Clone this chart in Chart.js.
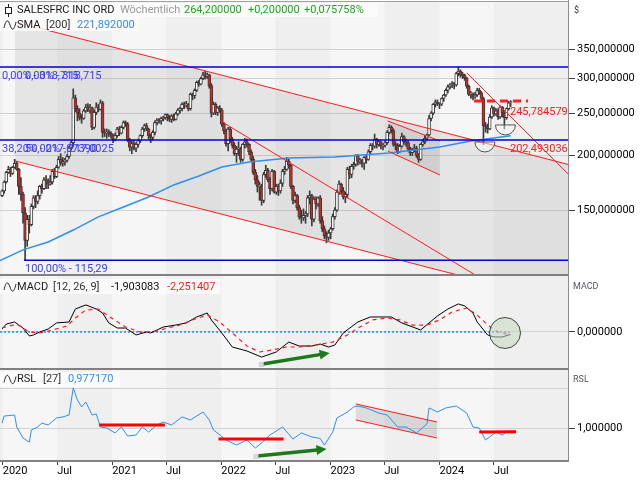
<!DOCTYPE html>
<html lang="de">
<head>
  <meta charset="UTF-8" />
  <title>SALESFRC INC ORD – Wöchentlich</title>
  <style>
    body { margin: 0; background: #fff; }
    #wrap { position: relative; width: 640px; height: 480px; overflow: hidden; }
    .pane { position: absolute; left: 0; width: 640px; }
    #p1 { top: 0; height: 276px; }
    #p2 { top: 276px; height: 94px; }
    #p3 { top: 370px; height: 110px; }
  </style>
</head>
<body>
<div id="wrap">
  <div class="pane" id="p1"><canvas id="priceChart"></canvas></div>
  <div class="pane" id="p2"><canvas id="macdChart"></canvas></div>
  <div class="pane" id="p3"><canvas id="rslChart"></canvas></div>
</div>

<script src="https://cdn.jsdelivr.net/npm/chart.js"></script>
<script>
// Wochenkerzen, Woche 0 = 30.12.2019
const opens = [
  162,166,174,183,186,182,188,192,186,170, 163,148,128,143,139,153,160,157,162,170,
  168,176,175,172,174,184,179,188,196,192, 194,195,199,208,214,271,256,250,244,243,
  253,258,254,257,232,251,258,255,264,226, 225,226,225,223,218,222,230,225,232,238,
  236,217,209,213,208,212,216,222,230,234, 230,222,220,226,238,241,240,243,244,248,
  244,242,246,242,249,254,256,262,261,262, 256,276,274,282,294,291,300,306,303,306,
  289,250,262,251,257,254,236,228,213,230, 218,211,202,207,207,196,212,215,212,204,
  196,183,176,170,170,158,181,185,176,168, 184,165,170,166,173,184,186,194,190,170,
  158,162,152,145,144,146,147,160,162,143, 159,155,160,142,136,131,130,133,136,145,
  150,165,172,166,161,163,186,181,189,191, 200,194,195,192,198,196,204,211,210,218,
  212,215,210,211,214,226,232,228,212,211, 204,210,221,215,214,207,203,206,208,200,
  196,212,215,219,223,243,250,262,265,263, 262,270,275,282,287,290,292,290,308,312,
  306,305,301,288,276,276,272,275,282,278, 270,234,233,230,245,257,249,253,245,258,
  250,244,256,264
];
const highs = [
  167,175,184,189,188,189,196,194,187,178, 165,152,146,146,155,162,162,166,171,172,
  178,180,177,180,186,187,190,199,202,198, 197,201,210,216,284,275,260,256,248,255,
  262,263,262,258,254,264,262,268,266,230, 230,229,227,224,225,232,233,234,240,240,
  238,219,216,217,214,218,223,232,236,237, 231,224,228,240,243,243,245,246,249,249,
  247,248,249,251,256,258,264,265,266,263, 278,278,284,296,297,302,310,311.75,309,307,
  292,265,264,259,260,256,238,230,232,232, 220,214,210,215,209,213,219,218,213,206,
  199,186,180,174,172,183,190,187,178,186, 185,172,172,176,186,189,198,196,191,171,
  165,163,154,150,151,149,162,166,163,161, 161,161,162,145,138,134,135,137,147,152,
  167,175,173,169,165,188,189,191,193,201, 201,197,196,199,200,206,213,213,224,219,
  217,216,213,216,228,235,234,230,215,213, 212,225,222,218,216,209,208,212,210,202,
  213,217,222,224,247,252,263,268,268,264, 271,276,284,290,292,295,294,310,318.7,314,
  310,307,302,290,280,278,279,285,285,280, 272,238,236,248,260,258,256,256,260,259,
  252,257,266,267
];
const lows = [
  161,164,173,182,179,181,187,185,163,158, 140,115.29,124,133,138,151,152,155,159,164,
  167,168,168,171,172,177,178,187,190,189, 190,193,197,206,211,252,240,241,237,242,
  251,252,250,229,230,248,252,254,220,221, 219,221,219,214,216,220,222,224,230,233,
  215,205,202,206,204,209,214,220,227,228, 218,214,217,223,235,237,236,240,242,240,
  239,238,240,241,247,250,253,256,258,253, 254,268,270,280,288,290,298,299,300,285,
  245,248,248,247,251,233,224,210,205,214, 208,200,193,200,193,194,208,209,201,194,
  181,172,165,158,154,156,178,174,163,166, 164,163,162,164,170,181,185,187,168,155,
  156,150,143,140,142,140,145,155,138,141, 151,153,140,134,129,126.34,128,129,135,143,
  149,163,163,159,156,160,177,178,186,189, 190,191,188,186,192,195,202,206,208,208,
  210,207,206,209,212,224,225,210,206,202, 203,209,212,210,205,200,200,204,198,193,
  195,210,213,217,222,240,248,258,260,256, 260,266,273,278,284,286,284,288,304,302,
  300,297,285,274,270,268,270,273,276,268, 212,226,225,229,243,246,247,242,243,245,
  230,242,254,259
];
const closes = [
  166,174,183,186,182,188,192,186,170,163, 148,128,143,139,153,160,157,162,170,168,
  176,175,172,174,184,179,188,196,192,194, 195,199,208,214,271,256,250,244,243,253,
  258,254,257,232,251,258,255,264,226,225, 226,225,223,218,222,230,225,232,238,236,
  217,209,213,208,212,216,222,230,234,230, 222,220,226,238,241,240,243,244,248,244,
  242,246,242,249,254,256,262,261,262,256, 276,274,282,294,291,300,306,303,306,289,
  250,262,251,257,254,236,228,213,230,218, 211,202,207,207,196,212,215,212,204,196,
  183,176,170,170,158,181,185,176,168,184, 165,170,166,173,184,186,194,190,170,158,
  162,152,145,144,146,147,160,162,143,159, 155,160,142,136,131,130,133,136,145,150,
  165,172,166,161,163,186,181,189,191,200, 194,195,192,198,196,204,211,210,218,212,
  215,210,211,214,226,232,228,212,211,204, 210,221,215,214,207,203,206,208,200,196,
  212,215,219,223,243,250,262,265,263,262, 270,275,282,287,290,292,290,308,312,306,
  305,301,288,276,276,272,275,282,278,270, 234,233,230,245,257,249,253,245,258,250,
  244,256,264,264.2
];

// SMA 200 (Woche, Wert)
const smaWeeks  = [-1, 10, 22, 34, 46, 58, 70, 82, 94, 105, 118, 137, 159, 185, 209, 224, 243];
const smaValues = [115.0, 121.7, 126.9, 135.1, 144.8, 152.5, 160.8, 171.3, 179.6, 188.3, 193.3, 197.4, 198.5, 202.7, 209.2, 215.9, 221.9];

// MACD 12/26/9
const macdWeeks  = [0,2,6,8,10,13,15,18,22,26,32,35,40,45,48,51,55,59,64,69,71,77,83,88,93,98,100,105,110,117,124,131,137,142,148,152,156,159,163,170,176,180,186,191,200,204,208,213,218,221,225,227,232,235,239,243];
const macdValues = [2.4,6.4,8.1,5.6,3.2,-3.2,-2.4,0,2.4,7.3,8.1,18.5,21.8,18.5,15.3,7.3,3.2,3.2,-2.4,0,-0.8,4.0,5.6,7.3,12.1,15.3,9.7,-0.8,-12.1,-15.3,-20.2,-16.1,-8.1,-11.3,-11.3,-9.7,-12.1,-10.5,-0.8,8.1,12.1,12.1,12.1,7.3,1.6,7.3,12.9,18.5,22.6,21.0,15.3,8.1,-2.4,-4.0,-4.0,-1.9];
const signalWeeks  = [0,7,13,18,24,31,35,40,46,53,59,66,72,79,85,91,98,104,110,117,123,129,136,142,150,158,165,171,177,184,190,196,203,209,215,222,227,232,237,241,243];
const signalValues = [3.2,6.4,0,-0.8,1.6,4.8,11.3,17.7,18.5,10.5,4.0,0,0,3.2,5.6,9.7,13.7,8.1,-0.8,-11.3,-16.1,-14.5,-12.1,-12.1,-10.5,-8.1,-2.4,4.0,9.7,11.3,9.7,5.6,5.6,9.7,16.1,19.3,13.7,5.6,0,-1.6,-2.25];

// RSL 27
const rslWeeks  = [0,1,6,7,10,13,14,17,19,22,26,29,32,34,36,38,40,43,45,47,50,54,57,60,64,67,70,74,77,81,86,90,96,99,101,107,112,117,121,124,128,134,139,143,148,152,154,158,160,165,168,170,174,180,184,189,193,198,203,204,208,212,217,222,225,228,231,233,236,239,241,243];
const rslValues = [1.038,1.092,1.1,1.008,0.923,0.892,0.985,1.008,1.038,1.023,1.077,1.085,1.1,1.308,1.215,1.162,1.2,1.1,1.108,1.008,1.0,0.962,1.008,0.938,0.946,1.008,0.969,1.023,1.046,1.023,1.085,1.062,1.123,1.062,0.985,0.908,0.869,0.908,0.846,0.885,0.946,1.008,0.915,0.962,0.931,0.92,0.869,0.969,1.077,1.123,1.162,1.169,1.154,1.115,1.1,1.008,1.008,0.962,1.031,1.154,1.123,1.154,1.169,1.115,1.008,1.0,0.908,0.931,0.969,0.946,0.969,0.977];

// Zeitachse
const xTickWeeks  = [0.3, 26.3, 52.6, 78.4, 104.7, 130.6, 156.9, 182.7, 209.0, 235.0];
const xTickLabels = ['2020', 'Jul', '2021', 'Jul', '2022', 'Jul', '2023', 'Jul', '2024', 'Jul'];
const priceTicks = [150, 200, 250, 300, 350];

// Fibonacci
const fibLevels = [318.715, 217.0025, 115.29];
const fibStarts = [-1, -1, 10.5];
const fibTexts = [
  ['0,00% - 318,715', '0,00% - 318,715'],
  ['38,20% - 217,07390', '50,00% - 217,0025'],
  ['', '100,00% - 115,29']
];

// Trendlinien [Woche1, Wert1, Woche2, Wert2]
const trendLines = [
  [6.2, 404, 270.5, 190.8],
  [6.2, 194.4, 270.5, 91.8],
  [104.4, 239.9, 227.4, 105.7],
  [222.1, 308.8, 271.4, 179.6],
  [184.3, 239.9, 209.2, 215.9],
  [184.3, 204.8, 209.2, 180.5]
];
const bigChannel   = [[6.2, 404], [270.5, 190.8], [270.5, 91.8], [6.2, 194.4]];
const smallChannel = [[184.3, 239.9], [209.2, 215.9], [209.2, 180.5], [184.3, 204.8]];
const resistLine = [225.5, 266.5, 251.3, 266.5];
const bowls = [[230.7, 214.8], [240.5, 234.9]];
const priceNotes = [[245.784579, '245,784579'], [202.493036, '202,493036']];

// MACD-Markierungen
const macdArrow = [124.5, -25.8, 156.5, -16.9];
const macdCircle = [240.3, -0.8];
const macdZeroEnd = 243.7;

// RSL-Markierungen
const rslBars = [[46.4, 1.023, 77.8, 1.023], [103.4, 0.915, 134.5, 0.915], [228, 0.97, 245.6, 0.972]];
const rslArrow = [122, 0.785, 155, 0.838];
const rslChannel = [[169, 1.185], [207.8, 1.046], [207.8, 0.923], [169, 1.062]];

const X_MIN = -1.0, X_MAX = 270.4;
const PRICE_MIN = 107.2, PRICE_MAX = 448.7;
const MACD_MIN = -29.0, MACD_MAX = 45.1;
const RSL_MIN = 0.754, RSL_MAX = 1.446;

const FONT = 'Roboto, "Liberation Sans", Arial, sans-serif';
Chart.defaults.font.family = FONT;
Chart.defaults.font.size = 11;
Chart.defaults.color = '#000';

const fmt6 = v => v.toFixed(6).replace('.', ',');
const weeks = closes.map((_, i) => i);

// Hilfsfunktionen zum Zeichnen
function pt(chart, w, v) {
  return [chart.scales.x.getPixelForValue(w), chart.scales.y.getPixelForValue(v)];
}
function seg(ctx, chart, s, color, width, dash) {
  const [x1, y1] = pt(chart, s[0], s[1]);
  const [x2, y2] = pt(chart, s[2], s[3]);
  ctx.save();
  ctx.strokeStyle = color;
  ctx.lineWidth = width;
  ctx.setLineDash(dash || []);
  ctx.beginPath();
  ctx.moveTo(x1, y1);
  ctx.lineTo(x2, y2);
  ctx.stroke();
  ctx.restore();
}
function poly(ctx, chart, pts, fill) {
  ctx.save();
  ctx.fillStyle = fill;
  ctx.beginPath();
  pts.forEach((p, i) => {
    const [x, y] = pt(chart, p[0], p[1]);
    if (i === 0) ctx.moveTo(x, y); else ctx.lineTo(x, y);
  });
  ctx.closePath();
  ctx.fill();
  ctx.restore();
}
function txt(ctx, s, x, y, color, size) {
  ctx.fillStyle = color;
  ctx.font = (size || 11) + 'px ' + FONT;
  ctx.textBaseline = 'middle';
  ctx.textAlign = 'left';
  ctx.fillText(s, x, y);
}
function arrow(ctx, chart, s, color) {
  const [x1, y1] = pt(chart, s[0], s[1]);
  const [x2, y2] = pt(chart, s[2], s[3]);
  const a = Math.atan2(y2 - y1, x2 - x1);
  ctx.save();
  ctx.strokeStyle = color;
  ctx.fillStyle = color;
  ctx.lineWidth = 3.5;
  ctx.beginPath();
  ctx.moveTo(x1, y1);
  ctx.lineTo(x2 - 7 * Math.cos(a), y2 - 7 * Math.sin(a));
  ctx.stroke();
  ctx.beginPath();
  ctx.moveTo(x2, y2);
  ctx.lineTo(x2 - 10 * Math.cos(a) + 5 * Math.sin(a), y2 - 10 * Math.sin(a) - 5 * Math.cos(a));
  ctx.lineTo(x2 - 10 * Math.cos(a) - 5 * Math.sin(a), y2 - 10 * Math.sin(a) + 5 * Math.cos(a));
  ctx.closePath();
  ctx.fill();
  ctx.fillStyle = '#d6d6d6';
  ctx.fillRect(x1 - 4, y1 - 2, 5, 5);
  ctx.restore();
}
function clipArea(ctx, a) {
  ctx.beginPath();
  ctx.rect(a.left, a.top, a.width, a.height);
  ctx.clip();
}
function waveIcon(ctx, x, y) {
  ctx.save();
  ctx.strokeStyle = '#222';
  ctx.lineWidth = 1;
  ctx.beginPath();
  ctx.moveTo(x, y + 3);
  ctx.bezierCurveTo(x + 2, y - 6, x + 4, y - 6, x + 6, y);
  ctx.bezierCurveTo(x + 8, y + 6, x + 10, y + 6, x + 12, y - 3);
  ctx.stroke();
  ctx.restore();
}
function legendBox(ctx, x, y, w, h) {
  ctx.fillStyle = 'rgba(251,251,251,0.85)';
  ctx.fillRect(x, y, w, h);
}

// Hintergrund (Halbjahre) und Rahmen
const paneFrame = {
  id: 'paneFrame',
  beforeDraw(chart) {
    const { ctx, chartArea: a, scales: { x } } = chart;
    ctx.save();
    ctx.fillStyle = '#efefef';
    ctx.fillRect(a.left, a.top, a.width, a.height);
    ctx.fillStyle = '#f6f6f6';
    for (let i = 0; i < xTickWeeks.length; i += 2) {
      const x0 = x.getPixelForValue(xTickWeeks[i]);
      const x1 = x.getPixelForValue(xTickWeeks[i + 1]);
      ctx.fillRect(x0, a.top, x1 - x0, a.height);
    }
    ctx.restore();
  },
  afterDraw(chart) {
    const { ctx, chartArea: a } = chart;
    ctx.save();
    ctx.fillStyle = '#808080';
    ctx.fillRect(0, a.bottom, a.right + 1, 2);
    ctx.fillStyle = '#8c8c8c';
    ctx.fillRect(a.right, 0, 1, a.bottom + 2);
    ctx.restore();
  }
};

const priceMarks = {
  id: 'priceMarks',
  beforeDatasetsDraw(chart) {
    const { ctx, chartArea: a } = chart;
    ctx.save();
    clipArea(ctx, a);
    poly(ctx, chart, bigChannel, 'rgba(0,0,0,0.065)');
    poly(ctx, chart, smallChannel, 'rgba(0,0,0,0.07)');
    ctx.restore();
  },
  afterDatasetsDraw(chart) {
    const { ctx, chartArea: a } = chart;
    ctx.save();
    clipArea(ctx, a);
    trendLines.forEach(s => seg(ctx, chart, s, '#ff1a1a', 1));
    fibLevels.forEach((lv, i) => seg(ctx, chart, [fibStarts[i], lv, X_MAX, lv], '#0000d8', 1.5));
    seg(ctx, chart, resistLine, '#ff2020', 3, [8, 5]);
    bowls.forEach(b => {
      const [cx, cy] = pt(chart, b[0], b[1]);
      ctx.beginPath();
      ctx.arc(cx, cy, 10, 0, Math.PI);
      ctx.closePath();
      ctx.fillStyle = 'rgba(250,250,250,0.45)';
      ctx.fill();
      ctx.strokeStyle = '#555';
      ctx.lineWidth = 1;
      ctx.stroke();
    });
    fibLevels.forEach((lv, i) => {
      const y = chart.scales.y.getPixelForValue(lv) + 9;
      txt(ctx, fibTexts[i][0], 2, y, '#3a3aff');
      txt(ctx, fibTexts[i][1], 25, y, '#3a3aff');
    });
    priceNotes.forEach(n => {
      const y = chart.scales.y.getPixelForValue(n[0]) - 4;
      txt(ctx, n[1], 510, y, '#ff1a1a');
    });
    ctx.restore();
  },
  afterDraw(chart) {
    const { ctx } = chart;
    ctx.save();
    ctx.fillStyle = '#a0a0a0';
    ctx.fillRect(0, 1, 569, 1);
    legendBox(ctx, 0, 3, 378, 14);
    legendBox(ctx, 0, 17, 139, 14);
    // Kerzen-Symbol
    ctx.strokeStyle = '#222';
    ctx.lineWidth = 1;
    ctx.beginPath();
    ctx.moveTo(8.5, 4); ctx.lineTo(8.5, 17);
    ctx.stroke();
    ctx.fillStyle = '#fff';
    ctx.fillRect(5.5, 7.5, 6, 6);
    ctx.strokeRect(5.5, 7.5, 6, 6);
    txt(ctx, 'SALESFRC INC ORD', 17, 10.5, '#1a1a1a');
    txt(ctx, 'Wöchentlich', 120, 10.5, '#9a9a9a');
    txt(ctx, '264,200000', 184, 10.5, '#1fa51f');
    txt(ctx, '+0,200000', 248, 10.5, '#1fa51f');
    txt(ctx, '+0,075758%', 304, 10.5, '#1fa51f');
    waveIcon(ctx, 4, 25);
    txt(ctx, 'SMA', 17, 25, '#1a1a1a');
    txt(ctx, '[200]', 46, 25, '#333');
    txt(ctx, '221,892000', 77, 25, '#2f8ff0');
    txt(ctx, '$', 574, 11, '#333', 9);
    ctx.restore();
  }
};

const macdMarks = {
  id: 'macdMarks',
  beforeDatasetsDraw(chart) {
    const { ctx, chartArea: a } = chart;
    ctx.save();
    clipArea(ctx, a);
    seg(ctx, chart, [X_MIN, 0, macdZeroEnd, 0], '#1e90ff', 1.5, [2, 2]);
    ctx.restore();
  },
  afterDatasetsDraw(chart) {
    const { ctx, chartArea: a } = chart;
    ctx.save();
    clipArea(ctx, a);
    arrow(ctx, chart, macdArrow, '#1b7a1b');
    const [cx, cy] = pt(chart, macdCircle[0], macdCircle[1]);
    ctx.beginPath();
    ctx.arc(cx, cy, 15.5, 0, Math.PI * 2);
    ctx.fillStyle = 'rgba(196,216,190,0.55)';
    ctx.fill();
    ctx.strokeStyle = '#444';
    ctx.lineWidth = 1;
    ctx.stroke();
    ctx.restore();
  },
  afterDraw(chart) {
    const { ctx } = chart;
    ctx.save();
    legendBox(ctx, 0, 3, 220, 15);
    waveIcon(ctx, 4, 11);
    txt(ctx, 'MACD', 17, 11, '#1a1a1a');
    txt(ctx, '[12, 26, 9]', 53, 11, '#333');
    txt(ctx, '-1,903083', 111, 11, '#111');
    txt(ctx, '-2,251407', 167, 11, '#ff1a1a');
    txt(ctx, 'MACD', 573, 11, '#556', 9);
    ctx.restore();
  }
};

const rslMarks = {
  id: 'rslMarks',
  beforeDatasetsDraw(chart) {
    const { ctx, chartArea: a } = chart;
    ctx.save();
    clipArea(ctx, a);
    poly(ctx, chart, rslChannel, 'rgba(0,0,0,0.1)');
    ctx.restore();
  },
  afterDatasetsDraw(chart) {
    const { ctx, chartArea: a } = chart;
    ctx.save();
    clipArea(ctx, a);
    seg(ctx, chart, [rslChannel[0][0], rslChannel[0][1], rslChannel[1][0], rslChannel[1][1]], '#ff1a1a', 1);
    seg(ctx, chart, [rslChannel[3][0], rslChannel[3][1], rslChannel[2][0], rslChannel[2][1]], '#ff1a1a', 1);
    rslBars.forEach(s => seg(ctx, chart, s, '#ff0000', 3));
    arrow(ctx, chart, rslArrow, '#1b7a1b');
    ctx.restore();
  },
  afterDraw(chart) {
    const { ctx } = chart;
    ctx.save();
    legendBox(ctx, 0, 2, 120, 15);
    waveIcon(ctx, 4, 9.5);
    txt(ctx, 'RSL', 17, 9.5, '#1a1a1a');
    txt(ctx, '[27]', 43, 9.5, '#333');
    txt(ctx, '0,977170', 68, 9.5, '#2f8ff0');
    txt(ctx, 'RSL', 573, 10, '#556', 9);
    ctx.restore();
  }
};

const noPad = s => { s.paddingTop = 0; s.paddingBottom = 0; s.paddingLeft = 0; s.paddingRight = 0; };
const hiddenX = { type: 'linear', min: X_MIN, max: X_MAX, offset: false, display: false, grid: { offset: false } };
const rightAxis = (min, max, ticks, fmt, extra) => Object.assign({
  position: 'right', min, max,
  afterBuildTicks: s => { s.ticks = ticks.map(v => ({ value: v })); },
  afterFit: s => { s.width = 72; noPad(s); },
  border: { display: false },
  grid: { color: '#d2d2d2', tickColor: '#444', tickLength: 7 },
  ticks: { callback: fmt, padding: 2, color: '#000', autoSkip: false }
}, extra);
const baseOptions = padding => ({
  responsive: true,
  maintainAspectRatio: false,
  animation: false,
  devicePixelRatio: 1,
  events: [],
  layout: { padding },
  plugins: { legend: { display: false }, tooltip: { enabled: false } }
});

// Kurschart
new Chart(document.getElementById('priceChart'), {
  data: {
    datasets: [
      {
        type: 'line', label: 'SMA 200',
        data: smaWeeks.map((w, i) => ({ x: w, y: smaValues[i] })),
        borderColor: '#2f8ff0', borderWidth: 1.5, pointRadius: 0, order: 0
      },
      {
        type: 'bar', label: 'Körper',
        data: weeks.map(i => ({ x: i, y: [Math.min(opens[i], closes[i]), Math.max(opens[i], closes[i])] })),
        backgroundColor: weeks.map(i => closes[i] >= opens[i] ? '#ffffff' : '#d2281c'),
        borderColor: '#3a3a3a', borderWidth: 1, borderSkipped: false,
        barThickness: 3, grouped: false, minBarLength: 1, order: 1
      },
      {
        type: 'bar', label: 'Docht',
        data: weeks.map(i => ({ x: i, y: [lows[i], highs[i]] })),
        backgroundColor: '#3a3a3a', barThickness: 1, grouped: false, order: 2
      }
    ]
  },
  options: Object.assign(baseOptions({ top: 2, bottom: 2, left: 0, right: 0 }), {
    scales: {
      x: hiddenX,
      y: rightAxis(PRICE_MIN, PRICE_MAX, priceTicks, v => fmt6(v), { type: 'logarithmic' })
    }
  }),
  plugins: [paneFrame, priceMarks]
});

// MACD
new Chart(document.getElementById('macdChart'), {
  type: 'line',
  data: {
    datasets: [
      {
        label: 'Signal', data: signalWeeks.map((w, i) => ({ x: w, y: signalValues[i] })),
        borderColor: '#ff1a1a', borderWidth: 1.2, borderDash: [4, 4], pointRadius: 0, order: 0
      },
      {
        label: 'MACD', data: macdWeeks.map((w, i) => ({ x: w, y: macdValues[i] })),
        borderColor: '#000', borderWidth: 1, pointRadius: 0, order: 1
      }
    ]
  },
  options: Object.assign(baseOptions({ top: 0, bottom: 2, left: 0, right: 0 }), {
    scales: {
      x: hiddenX,
      y: rightAxis(MACD_MIN, MACD_MAX, [0], v => fmt6(v), { type: 'linear' })
    }
  }),
  plugins: [paneFrame, macdMarks]
});

// RSL
new Chart(document.getElementById('rslChart'), {
  type: 'line',
  data: {
    datasets: [{
      label: 'RSL', data: rslWeeks.map((w, i) => ({ x: w, y: rslValues[i] })),
      borderColor: '#2f8ff0', borderWidth: 1, pointRadius: 0
    }]
  },
  options: Object.assign(baseOptions({ top: 0, bottom: 0, left: 0, right: 0 }), {
    scales: {
      x: {
        type: 'linear', min: X_MIN, max: X_MAX, offset: false, position: 'bottom',
        afterBuildTicks: s => { s.ticks = xTickWeeks.map(v => ({ value: v })); },
        afterFit: s => { s.height = 20; noPad(s); },
        border: { display: false },
        grid: { drawOnChartArea: false, tickLength: 5, tickColor: '#444', offset: false },
        ticks: { autoSkip: false, maxRotation: 0, align: 'start', padding: 0, color: '#000', callback: (v, i) => xTickLabels[i] }
      },
      y: rightAxis(RSL_MIN, RSL_MAX, [1.0, 1.3], v => v === 1 ? fmt6(v) : '', {
        type: 'linear',
        grid: { color: '#d2d2d2', tickLength: 7, tickColor: c => c.tick && c.tick.value === 1 ? '#444' : 'rgba(0,0,0,0)' }
      })
    }
  }),
  plugins: [paneFrame, rslMarks]
});
</script>
</body>
</html>
